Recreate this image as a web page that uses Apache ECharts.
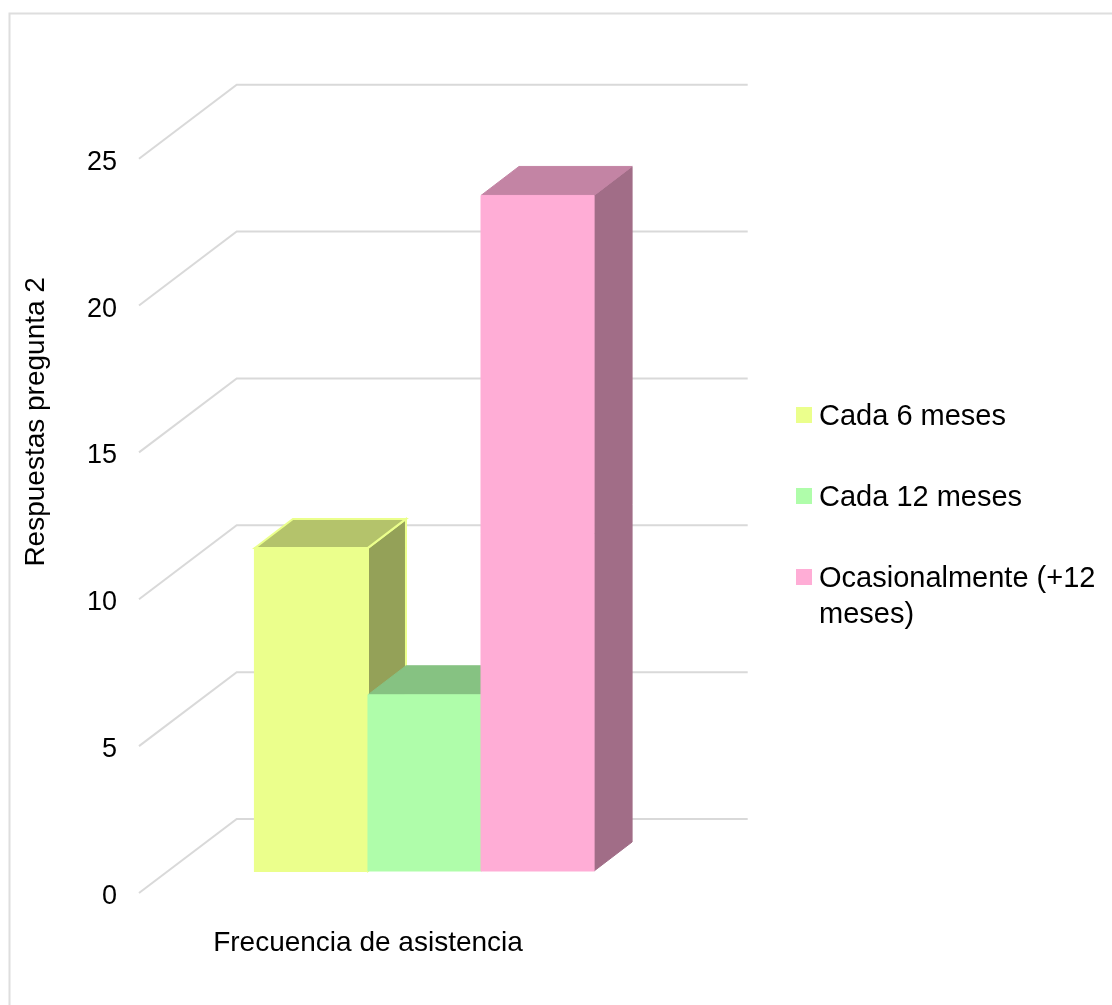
<!DOCTYPE html>
<html>
<head>
<meta charset="utf-8">
<style>html,body{margin:0;padding:0;background:#fff}#chart{width:1112px;height:1005px}</style>
<script src="https://cdn.jsdelivr.net/npm/echarts@6/dist/echarts.min.js"></script>
</head>
<body>
<div id="chart"></div>
<script>
const categories = ['Frecuencia de asistencia'];
const cada6Meses = [11];
const cada12Meses = [6];
const ocasionalmente = [23];
const wallTicks = [0, 5, 10, 15, 20, 25];

const FONT = '"Liberation Sans", Arial, sans-serif';

// Oblique projection of the 3D box, in pixels: the floor's full depth,
// how far the bars' front face sits behind the front plane, and the bars' own depth.
const DEPTH_X = 97.7, DEPTH_Y = -74;
const BAR_SHIFT_X = 30, BAR_SHIFT_Y = -22;
const BAR_DEPTH_X = 38, BAR_DEPTH_Y = -29;
const BARS_PER_BAND = 4.52;

function shade(rgb, k) {
  return 'rgb(' + rgb.map(c => Math.round(c * k)).join(',') + ')';
}

// One solid bar: side and top faces share the front colour, darkened.
function barRenderer(slot, rgb, outlined) {
  return function (params, api) {
    const band = api.size([1, 0])[0];
    const base = api.coord([api.value(0), 0]);
    const top = api.coord([api.value(0), api.value(1)]);
    const w = band / BARS_PER_BAND;
    const x0 = base[0] + (slot - 1.5) * w + BAR_SHIFT_X;
    const x1 = x0 + w;
    const yB = base[1] + BAR_SHIFT_Y;
    const yT = top[1] + BAR_SHIFT_Y;
    const dx = BAR_DEPTH_X, dy = BAR_DEPTH_Y;
    const front = shade(rgb, 1);
    const face = (pts, fill) => ({
      type: 'polygon',
      shape: { points: pts },
      style: {
        fill: fill,
        stroke: outlined ? front : fill,
        lineWidth: outlined ? 2 : 1
      }
    });
    return {
      type: 'group',
      children: [
        face([[x1, yT], [x1 + dx, yT + dy], [x1 + dx, yB + dy], [x1, yB]], shade(rgb, 0.63)),
        face([[x0, yT], [x1, yT], [x1 + dx, yT + dy], [x0 + dx, yT + dy]], shade(rgb, 0.765)),
        face([[x0, yT], [x1, yT], [x1, yB], [x0, yB]], front)
      ]
    };
  };
}

function barSeries(name, values, slot, rgb, outlined) {
  return {
    name: name,
    type: 'custom',
    coordinateSystem: 'cartesian2d',
    itemStyle: { color: shade(rgb, 1) },
    encode: { x: 0, y: 1 },
    data: values.map((v, i) => [i, v]),
    renderItem: barRenderer(slot, rgb, outlined)
  };
}

// Gridlines run across the side wall, then along the back wall.
function wallRenderer(params, api) {
  const area = params.coordSys;
  const y = api.coord([0, api.value(1)])[1];
  const xb = area.x + DEPTH_X;
  const yb = y + DEPTH_Y;
  return {
    type: 'polyline',
    shape: { points: [[area.x, y], [xb, yb], [area.x + area.width + DEPTH_X, yb]] },
    style: { fill: null, stroke: '#D9D9D9', lineWidth: 2 }
  };
}

const chart = echarts.init(document.getElementById('chart'), null, { renderer: 'canvas' });
const legendText = {
  fontFamily: FONT,
  fontSize: 29,
  color: '#000',
  lineHeight: 34,
  rich: {
    // Top padding lowers the text a little against its swatch.
    t: { fontFamily: FONT, fontSize: 29, color: '#000', lineHeight: 34, padding: [3, 0, 0, 2] },
    u: { fontFamily: FONT, fontSize: 29, color: '#000', lineHeight: 34, padding: [7, 0, 0, 2] }
  }
};

chart.setOption({
  animation: false,
  backgroundColor: '#fff',
  // Frame runs off the right and bottom edges of the page.
  graphic: [{
    type: 'polyline',
    silent: true,
    shape: { points: [[9.5, 1005], [9.5, 13.5], [1112, 13.5]] },
    style: { fill: null, stroke: '#DEDEDE', lineWidth: 2 }
  }],
  grid: { left: 139, top: 158.7, width: 511, height: 734.3, containLabel: false },
  xAxis: {
    type: 'category',
    data: categories,
    axisLine: { show: false },
    axisTick: { show: false },
    axisLabel: {
      margin: 36,
      padding: [0, 53, 0, 0],
      fontFamily: FONT,
      fontSize: 28,
      color: '#000'
    }
  },
  yAxis: {
    type: 'value',
    min: 0,
    max: 25,
    interval: 5,
    axisLine: { show: false },
    axisTick: { show: false },
    splitLine: { show: false },
    axisLabel: {
      margin: 22,
      fontFamily: FONT,
      fontSize: 27,
      color: '#000',
      formatter: '{a|{value}}',
      rich: { a: { fontFamily: FONT, fontSize: 27, color: '#000', padding: [7, 0, 0, 0] } }
    },
    name: 'Respuestas pregunta 2',
    nameLocation: 'middle',
    nameGap: 89,
    nameTextStyle: {
      fontFamily: FONT,
      fontSize: 28,
      color: '#000',
      padding: [0, 0, 0, 208]
    }
  },
  legend: [
    {
      orient: 'vertical',
      left: 796,
      top: 398,
      padding: 0,
      itemWidth: 16,
      itemHeight: 16,
      itemGap: 47,
      icon: 'rect',
      textStyle: legendText,
      formatter: name => '{t|' + name + '}',
      data: ['Cada 6 meses', 'Cada 12 meses']
    },
    {
      orient: 'vertical',
      left: 796,
      top: 526,
      padding: 0,
      itemWidth: 16,
      itemHeight: 16,
      icon: 'rect',
      textStyle: legendText,
      // A leading blank line centres the swatch on the first line of text.
      formatter: () => '\n{t|Ocasionalmente (+12}\n{u|meses)}',
      data: ['Ocasionalmente (+12 meses)']
    }
  ],
  series: [
    {
      type: 'custom',
      coordinateSystem: 'cartesian2d',
      silent: true,
      encode: { x: 0, y: 1 },
      data: wallTicks.map(v => [0, v]),
      renderItem: wallRenderer
    },
    barSeries('Cada 6 meses', cada6Meses, 0, [235, 255, 140], true),
    barSeries('Cada 12 meses', cada12Meses, 1, [175, 253, 170], false),
    barSeries('Ocasionalmente (+12 meses)', ocasionalmente, 2, [255, 173, 214], false)
  ]
});
</script>
</body>
</html>
